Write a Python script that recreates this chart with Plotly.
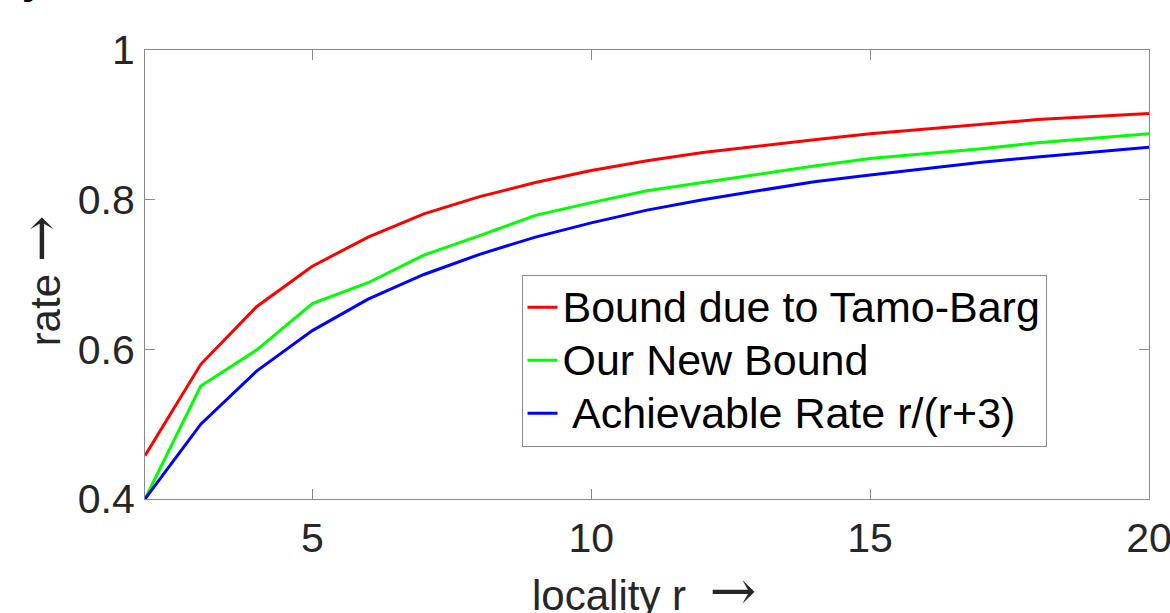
import plotly.graph_objects as go

# locality r
r_values = [2, 3, 4, 5, 6, 7, 8, 9, 10, 11, 12, 13, 14, 15, 16, 17, 18, 19, 20]

# Bound due to Tamo-Barg (red)
tamo_barg = [0.458, 0.580, 0.657, 0.711, 0.750, 0.781, 0.804, 0.823, 0.839, 0.852,
             0.863, 0.872, 0.880, 0.888, 0.894, 0.901, 0.907, 0.911, 0.915]

# Our New Bound (green)
new_bound = [0.400, 0.551, 0.599, 0.661, 0.689, 0.726, 0.752, 0.779, 0.796, 0.812,
             0.823, 0.834, 0.845, 0.855, 0.861, 0.868, 0.876, 0.882, 0.888]

# Achievable Rate r/(r+3) (blue)
achievable = [0.400, 0.500, 0.571, 0.625, 0.667, 0.700, 0.727, 0.750, 0.769, 0.786,
              0.800, 0.812, 0.824, 0.833, 0.842, 0.850, 0.857, 0.864, 0.870]

series_names = ["Bound due to Tamo-Barg", "Our New Bound", " Achievable Rate r/(r+3)"]
series_colors = ["#ff0000", "#00ff00", "#0000ff"]

x_ticks = [5, 10, 15, 20]
y_ticks = [0.4, 0.6, 0.8, 1]
y_tick_text = ["0.4", "0.6", "0.8", "1"]

FONT = "Liberation Sans, Arial, Helvetica, sans-serif"
ARROW = '<span style="font-family:DejaVu Serif;font-size:56px">\u2192</span>'
AXIS_COLOR = "#8a8a8a"
TEXT_COLOR = "#262626"

fig = go.Figure()
for name, ys, col in zip(series_names, [tamo_barg, new_bound, achievable], series_colors):
    fig.add_trace(go.Scatter(x=r_values, y=ys, mode="lines",
                             name='<span style="font-size:43px">' + name + '</span>',
                             line=dict(color=col, width=3)))

axis_common = dict(
    showgrid=False, zeroline=False, showline=True, linecolor=AXIS_COLOR, linewidth=1,
    mirror="ticks", ticks="inside", ticklen=10, tickcolor=AXIS_COLOR, tickwidth=1,
    tickfont=dict(family=FONT, size=41, color=TEXT_COLOR),
    ticklabeloverflow="allow", automargin=False,
)

fig.update_xaxes(range=[2, 20], tickvals=x_ticks, ticktext=[str(v) for v in x_ticks],
                 ticklabelstandoff=3, **axis_common)
fig.update_yaxes(range=[0.4, 1], tickvals=y_ticks, ticktext=y_tick_text,
                 ticklabelstandoff=1, **axis_common)

fig.add_annotation(text="rate&nbsp;" + ARROW, xref="paper", yref="paper", x=-0.104, y=0.486,
                   xanchor="center", yanchor="middle", textangle=-90, showarrow=False,
                   font=dict(family=FONT, size=42, color=TEXT_COLOR))
fig.add_annotation(text="locality r&nbsp;&nbsp;" + ARROW, xref="paper", yref="paper", x=0.497,
                   y=-0.127, xanchor="center", yanchor="top", showarrow=False,
                   font=dict(family=FONT, size=42, color=TEXT_COLOR))
# fragment of text cut off at the top-left edge of the picture
fig.add_annotation(text="<b>y</b>", xref="paper", yref="paper", x=-0.111, y=1.103,
                   xanchor="center", yanchor="bottom", showarrow=False,
                   font=dict(family=FONT, size=40, color="#000000"))

fig.update_layout(
    width=1170, height=613, autosize=False,
    margin=dict(l=145, r=21, t=50, b=114),
    paper_bgcolor="white", plot_bgcolor="white",
    showlegend=True,
    legend=dict(x=0.375, y=0.4995, xanchor="left", yanchor="top",
                bgcolor="white", bordercolor=AXIS_COLOR, borderwidth=1,
                font=dict(family=FONT, size=38.5, color="#000000"),
                tracegroupgap=0, itemwidth=30),
)

fig.write_html("out.html", config={"responsive": False, "displayModeBar": False},
               post_script="document.body.style.margin='0';")
